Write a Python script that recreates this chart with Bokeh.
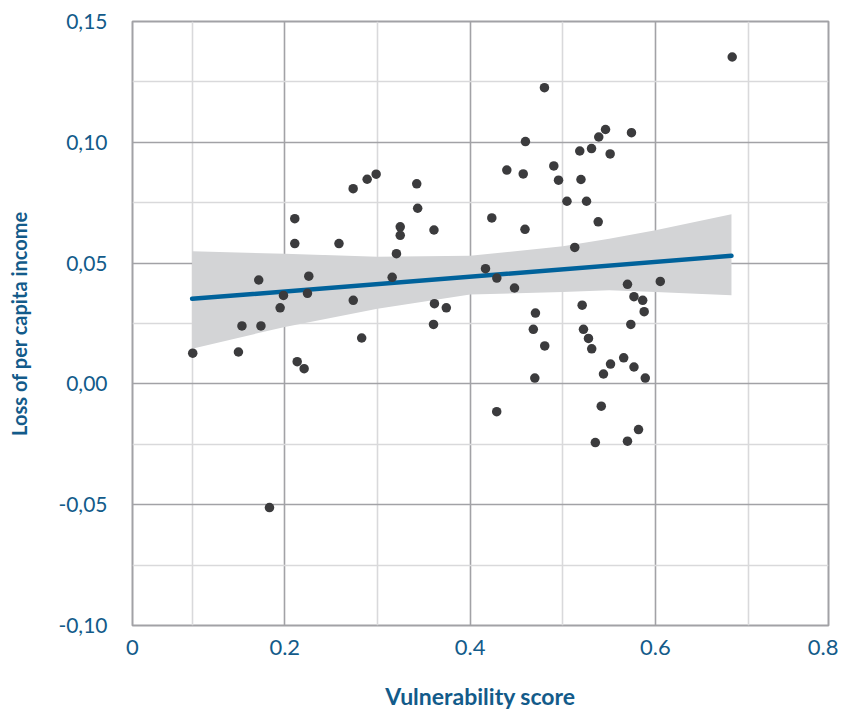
from bokeh.plotting import figure
from bokeh.models import Range1d, FixedTicker, ColumnDataSource
from bokeh.embed import file_html
from bokeh.resources import INLINE

# ---- data ----
vuln_x = [0.1007, 0.150, 0.1538, 0.1743, 0.1719, 0.1950, 0.1986, 0.2108, 0.2108, 0.2259,
          0.2245, 0.2134, 0.2209, 0.1835, 0.2738, 0.2889, 0.2986, 0.2585, 0.2739, 0.2830,
          0.3424, 0.3434, 0.3246, 0.3246, 0.3205, 0.3159, 0.3610, 0.3615, 0.3743, 0.3605,
          0.4802, 0.4597, 0.4396, 0.4573, 0.4903, 0.4954, 0.5196, 0.5183, 0.5310, 0.5388,
          0.5461, 0.5511, 0.5741, 0.5045, 0.5256, 0.5382, 0.5129, 0.4234, 0.4592, 0.4166,
          0.4288, 0.4479, 0.5698, 0.4705, 0.4682, 0.4805, 0.4698, 0.4287, 0.5209, 0.5223,
          0.5277, 0.5312, 0.5439, 0.5515, 0.5657, 0.5768, 0.5890, 0.5768, 0.5862, 0.5878,
          0.5734, 0.6052, 0.5415, 0.5351, 0.5698, 0.5817, 0.6828]
income_loss = [0.0127, 0.0132, 0.0240, 0.0240, 0.0430, 0.0315, 0.0366, 0.0684, 0.0581, 0.0446,
               0.0375, 0.0092, 0.0063, -0.0512, 0.0808, 0.0847, 0.0868, 0.0581, 0.0346, 0.0190,
               0.0828, 0.0727, 0.0650, 0.0615, 0.0539, 0.0441, 0.0637, 0.0332, 0.0315, 0.0246,
               0.1226, 0.1003, 0.0885, 0.0869, 0.0902, 0.0843, 0.0846, 0.0964, 0.0974, 0.1022,
               0.1053, 0.0952, 0.1040, 0.0756, 0.0756, 0.0671, 0.0565, 0.0687, 0.0640, 0.0477,
               0.0438, 0.0397, 0.0412, 0.0293, 0.0226, 0.0157, 0.0024, -0.0115, 0.0326, 0.0226,
               0.0188, 0.0145, 0.0041, 0.0082, 0.0108, 0.0070, 0.0024, 0.0361, 0.0346, 0.0299,
               0.0246, 0.0424, -0.0092, -0.0243, -0.0237, -0.0189, 0.1353]

fit_x = [0.100, 0.682]
fit_y = [0.0352, 0.0530]

band_x = [0.100, 0.200, 0.300, 0.400, 0.500, 0.550, 0.600, 0.682]
band_upper = [0.0549, 0.0539, 0.0526, 0.0530, 0.0570, 0.0601, 0.0636, 0.0702]
band_lower = [0.0146, 0.0236, 0.0311, 0.0370, 0.0380, 0.0388, 0.0380, 0.0367]

x_start, x_end = 0.0357, 0.7867
x_tick_values = [x_start, 0.2, 0.4, 0.6, x_end]
x_tick_labels = ["0", "0.2", "0.4", "0.6", "0.8"]
x_grid_major = [0.2, 0.4, 0.6]
x_grid_minor = [0.1, 0.3, 0.5, 0.7]

y_tick_values = [-0.10, -0.05, 0.0, 0.05, 0.10, 0.15]
y_tick_labels = ["-0,10", "-0,05", "0,00", "0,05", "0,10", "0,15"]
y_grid_minor = [-0.075, -0.025, 0.025, 0.075, 0.125]

x_title = "Vulnerability score"
y_title = "Loss of per capita income"

# ---- styling ----
TEXT = "#135b8a"
FONT = "Lato"
MAJOR_GRID = "#a2a2a6"
MINOR_GRID = "#d9d9db"

p = figure(width=838, height=713, output_backend="svg", toolbar_location=None,
           x_range=Range1d(x_start, x_end), y_range=Range1d(-0.10, 0.15),
           min_border_left=132, min_border_right=10, min_border_top=21, min_border_bottom=88)
p.background_fill_color = "white"
p.border_fill_color = "white"
p.outline_line_color = MAJOR_GRID
p.outline_line_width = 2

# grids
p.xgrid.ticker = FixedTicker(ticks=x_grid_major, minor_ticks=x_grid_minor)
p.ygrid.ticker = FixedTicker(ticks=y_tick_values, minor_ticks=y_grid_minor)
for g in (p.xgrid, p.ygrid):
    g.grid_line_color = MAJOR_GRID
    g.grid_line_width = 1.6
    g.minor_grid_line_color = MINOR_GRID
    g.minor_grid_line_width = 1.6

# axes
p.xaxis.ticker = FixedTicker(ticks=x_tick_values)
p.xaxis.major_label_overrides = {v: l for v, l in zip(x_tick_values, x_tick_labels)}
p.yaxis.ticker = FixedTicker(ticks=y_tick_values)
p.yaxis.major_label_overrides = {v: l for v, l in zip(y_tick_values, y_tick_labels)}
for ax in (p.xaxis[0], p.yaxis[0]):
    ax.axis_line_color = None
    ax.major_tick_line_color = None
    ax.minor_tick_line_color = None
    ax.major_tick_out = 0
    ax.major_tick_in = 0
    ax.major_label_text_color = TEXT
    ax.major_label_text_font = FONT
    ax.axis_label_text_color = TEXT
    ax.axis_label_text_font = FONT
    ax.axis_label_text_font_style = "bold"
p.xaxis.major_label_text_font_size = "22px"
p.yaxis.major_label_text_font_size = "21px"
p.xaxis.major_label_standoff = 14
p.yaxis.major_label_standoff = 25
p.xaxis.axis_label = x_title
p.yaxis.axis_label = y_title
p.xaxis.axis_label_text_font_size = "23px"
p.yaxis.axis_label_text_font_size = "20px"
p.xaxis.axis_label_standoff = 24
p.yaxis.axis_label_standoff = 24

# confidence band
band = ColumnDataSource(dict(x=band_x, lo=band_lower, hi=band_upper))
p.varea(x="x", y1="lo", y2="hi", source=band, fill_color="#d3d4d6", fill_alpha=1.0)

# regression line
p.line(fit_x, fit_y, line_color="#00629b", line_width=4.5, line_cap="round")

# points
pts = ColumnDataSource(dict(x=vuln_x, y=income_loss))
p.scatter("x", "y", source=pts, size=9.5, fill_color="#3b3b3d", line_color=None)

open("out.html", "w").write(file_html(p, INLINE))
